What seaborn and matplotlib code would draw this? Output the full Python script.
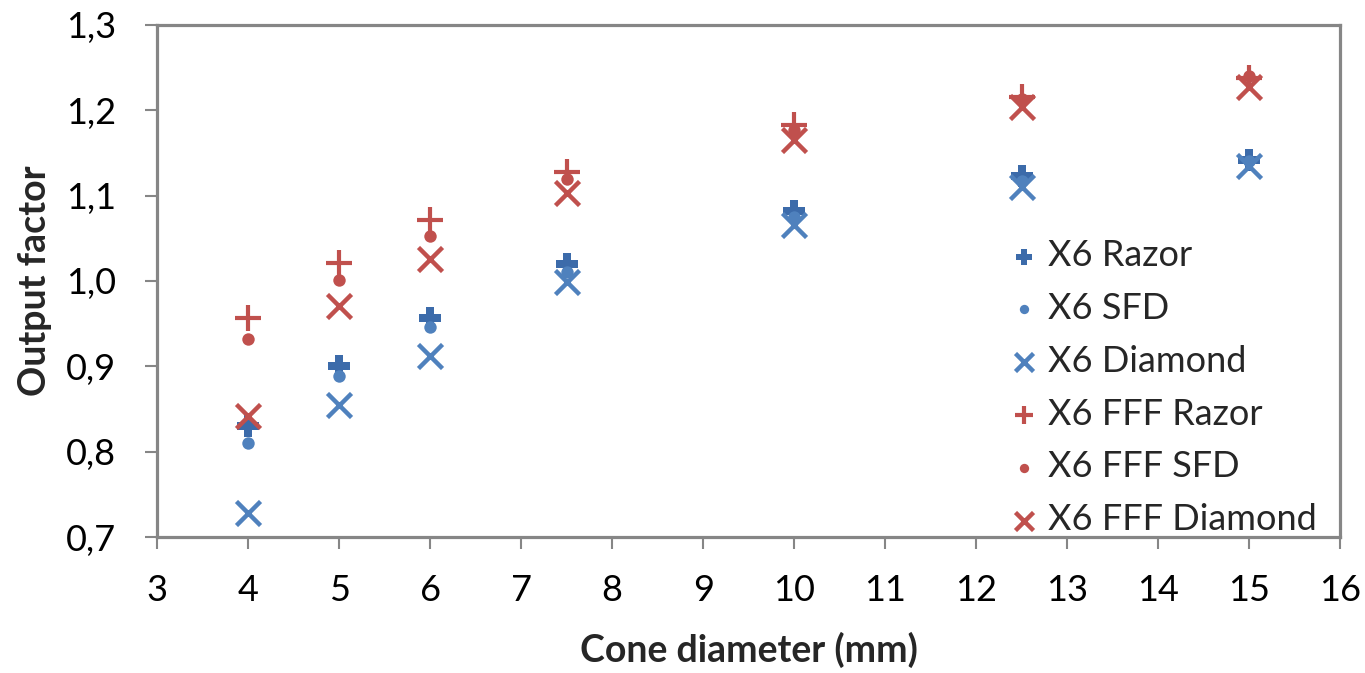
import matplotlib
matplotlib.use("Agg")
import matplotlib.pyplot as plt
import seaborn as sns
import pandas as pd
from matplotlib.ticker import FuncFormatter, MultipleLocator

cone = [4, 5, 6, 7.5, 10, 12.5, 15]
x6_razor = [0.830, 0.900, 0.957, 1.020, 1.082, 1.123, 1.142]
x6_sfd = [0.810, 0.889, 0.946, 1.011, 1.075, 1.117, 1.141]
x6_diamond = [0.728, 0.855, 0.912, 0.999, 1.066, 1.110, 1.135]
fff_razor = [0.957, 1.021, 1.071, 1.128, 1.183, 1.216, 1.238]
fff_sfd = [0.932, 1.001, 1.053, 1.120, 1.177, 1.213, 1.240]
fff_diamond = [0.842, 0.971, 1.026, 1.103, 1.165, 1.204, 1.227]

series_names = ["X6 Razor", "X6 SFD", "X6 Diamond", "X6 FFF Razor", "X6 FFF SFD", "X6 FFF Diamond"]
series_vals = [x6_razor, x6_sfd, x6_diamond, fff_razor, fff_sfd, fff_diamond]

sns.set_style("white")
plt.rcParams['font.family'] = ['Lato', 'DejaVu Sans']

fig = plt.figure(figsize=(13.65, 6.73), dpi=100)
ax = fig.add_axes([0.115, 0.202, 0.867, 0.761])

styles = {
    "X6 Razor": dict(marker="P", color="#3C6BAA", s=260, linewidth=0),
    "X6 SFD": dict(marker="o", color="#4F81BD", s=80, linewidth=0),
    "X6 Diamond": dict(marker="x", color="#4F81BD", s=300, linewidth=3.2),
    "X6 FFF Razor": dict(marker="+", color="#C0504D", s=330, linewidth=3.0),
    "X6 FFF SFD": dict(marker="o", color="#C0504D", s=80, linewidth=0),
    "X6 FFF Diamond": dict(marker="x", color="#C0504D", s=300, linewidth=3.2),
}

for name, vals in zip(series_names, series_vals):
    df = pd.DataFrame({"x": cone, "y": vals})
    st = styles[name]
    sns.scatterplot(data=df, x="x", y="y", ax=ax, marker=st["marker"], color=st["color"],
                    s=st["s"], linewidth=st["linewidth"], edgecolor=st["color"], label=name, zorder=3)

ax.set_xlim(3, 16)
ax.set_ylim(0.7, 1.3)
ax.xaxis.set_major_locator(MultipleLocator(1))
ax.yaxis.set_major_locator(MultipleLocator(0.1))
ax.yaxis.set_major_formatter(FuncFormatter(lambda v, p: f"{v:.1f}".replace(".", ",")))
ax.xaxis.set_major_formatter(FuncFormatter(lambda v, p: f"{v:g}"))

for sp in ax.spines.values():
    sp.set_color("#868686")
    sp.set_linewidth(2.3)
    sp.set_visible(True)

ax.tick_params(axis="both", which="major", direction="out", length=8.5, width=1.5,
               color="#868686", labelsize=26, labelcolor="black")
ax.tick_params(axis="x", bottom=True, pad=18)
ax.tick_params(axis="y", left=True, pad=21)

ax.set_xlabel("Cone diameter (mm)", fontsize=27, fontweight="bold", labelpad=18)
ax.set_ylabel("Output factor", fontsize=27, fontweight="bold", labelpad=10)

leg = ax.legend(loc="lower right", bbox_to_anchor=(1.001, -0.048), frameon=False, fontsize=26,
                handlelength=1.0, handletextpad=0.15, labelspacing=0.55, markerscale=0.75,
                borderaxespad=0.3)

fig.savefig("out.png", dpi=100)
